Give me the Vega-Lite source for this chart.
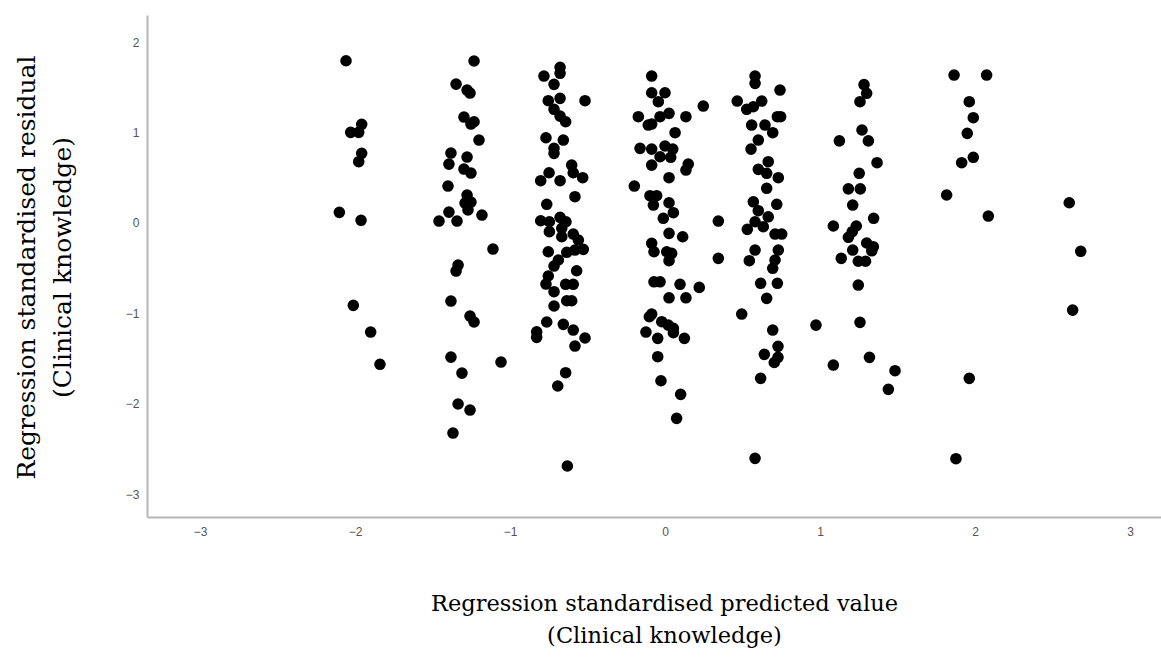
{
  "$schema": "https://vega.github.io/schema/vega-lite/v6.json",
  "width": 1014,
  "height": 502,
  "autosize": {"type": "none"},
  "padding": {"left": 147, "top": 15, "right": 0, "bottom": 147},
  "background": "white",
  "config": {"view": {"stroke": null}},
  "data": {"values": [
    {"x": -2.058, "y": 1.793}, {"x": -2.028, "y": 1.001}, {"x": -1.976, "y": 1.001}, {"x": -1.957, "y": 1.090}, {"x": -1.957, "y": 0.769}, {"x": -1.976, "y": 0.676}, {"x": -2.101, "y": 0.116}, {"x": -1.961, "y": 0.028}, {"x": -2.011, "y": -0.913}, {"x": -1.899, "y": -1.208}, {"x": -1.839, "y": -1.565},
    {"x": -1.232, "y": 1.790}, {"x": -1.348, "y": 1.535}, {"x": -1.277, "y": 1.469}, {"x": -1.258, "y": 1.436}, {"x": -1.297, "y": 1.170}, {"x": -1.252, "y": 1.093}, {"x": -1.232, "y": 1.118}, {"x": -1.200, "y": 0.916}, {"x": -1.381, "y": 0.772}, {"x": -1.394, "y": 0.650}, {"x": -1.277, "y": 0.728}, {"x": -1.297, "y": 0.595}, {"x": -1.252, "y": 0.551}, {"x": -1.400, "y": 0.407}, {"x": -1.277, "y": 0.308}, {"x": -1.290, "y": 0.219}, {"x": -1.252, "y": 0.230}, {"x": -1.271, "y": 0.142}, {"x": -1.394, "y": 0.119}, {"x": -1.458, "y": 0.020}, {"x": -1.342, "y": 0.020}, {"x": -1.181, "y": 0.086}, {"x": -1.110, "y": -0.290}, {"x": -1.335, "y": -0.467}, {"x": -1.348, "y": -0.533}, {"x": -1.381, "y": -0.865}, {"x": -1.258, "y": -1.031}, {"x": -1.232, "y": -1.097}, {"x": -1.381, "y": -1.485}, {"x": -1.310, "y": -1.662}, {"x": -1.058, "y": -1.540}, {"x": -1.335, "y": -2.004}, {"x": -1.258, "y": -2.071}, {"x": -1.368, "y": -2.325},
    {"x": -0.677, "y": 1.720}, {"x": -0.677, "y": 1.654}, {"x": -0.781, "y": 1.624}, {"x": -0.716, "y": 1.532}, {"x": -0.516, "y": 1.351}, {"x": -0.753, "y": 1.351}, {"x": -0.677, "y": 1.377}, {"x": -0.716, "y": 1.256}, {"x": -0.677, "y": 1.181}, {"x": -0.641, "y": 1.118}, {"x": -0.768, "y": 0.941}, {"x": -0.656, "y": 0.916}, {"x": -0.716, "y": 0.824}, {"x": -0.716, "y": 0.769}, {"x": -0.602, "y": 0.639}, {"x": -0.592, "y": 0.554}, {"x": -0.748, "y": 0.554}, {"x": -0.802, "y": 0.466}, {"x": -0.677, "y": 0.466}, {"x": -0.531, "y": 0.499}, {"x": -0.581, "y": 0.289}, {"x": -0.763, "y": 0.205}, {"x": -0.802, "y": 0.023}, {"x": -0.746, "y": 0.012}, {"x": -0.677, "y": 0.061}, {"x": -0.639, "y": 0.012}, {"x": -0.746, "y": -0.098}, {"x": -0.666, "y": -0.061}, {"x": -0.666, "y": -0.154}, {"x": -0.592, "y": -0.124}, {"x": -0.559, "y": -0.190}, {"x": -0.527, "y": -0.293}, {"x": -0.581, "y": -0.301}, {"x": -0.634, "y": -0.326}, {"x": -0.753, "y": -0.320}, {"x": -0.688, "y": -0.411}, {"x": -0.716, "y": -0.478}, {"x": -0.570, "y": -0.530}, {"x": -0.753, "y": -0.588}, {"x": -0.768, "y": -0.677}, {"x": -0.716, "y": -0.762}, {"x": -0.641, "y": -0.680}, {"x": -0.592, "y": -0.680}, {"x": -0.634, "y": -0.862}, {"x": -0.602, "y": -0.862}, {"x": -0.716, "y": -0.920}, {"x": -0.763, "y": -1.097}, {"x": -0.656, "y": -1.123}, {"x": -0.592, "y": -1.186}, {"x": -0.516, "y": -1.274}, {"x": -0.828, "y": -1.205}, {"x": -0.828, "y": -1.267}, {"x": -0.581, "y": -1.363}, {"x": -0.641, "y": -1.658}, {"x": -0.692, "y": -1.805}, {"x": -0.630, "y": -2.690},
    {"x": -0.086, "y": 1.624}, {"x": -0.086, "y": 1.439}, {"x": 0.000, "y": 1.439}, {"x": -0.043, "y": 1.340}, {"x": -0.172, "y": 1.174}, {"x": -0.108, "y": 1.082}, {"x": -0.086, "y": 1.093}, {"x": -0.032, "y": 1.174}, {"x": 0.026, "y": 1.211}, {"x": 0.135, "y": 1.174}, {"x": 0.247, "y": 1.292}, {"x": 0.065, "y": 0.997}, {"x": -0.161, "y": 0.824}, {"x": -0.086, "y": 0.816}, {"x": 0.000, "y": 0.850}, {"x": 0.050, "y": 0.816}, {"x": -0.032, "y": 0.731}, {"x": 0.037, "y": 0.725}, {"x": -0.086, "y": 0.639}, {"x": 0.150, "y": 0.650}, {"x": 0.135, "y": 0.584}, {"x": 0.026, "y": 0.499}, {"x": -0.198, "y": 0.407}, {"x": -0.097, "y": 0.300}, {"x": -0.054, "y": 0.300}, {"x": -0.075, "y": 0.197}, {"x": 0.026, "y": 0.222}, {"x": 0.054, "y": 0.112}, {"x": -0.011, "y": 0.050}, {"x": 0.344, "y": 0.020}, {"x": 0.026, "y": -0.116}, {"x": 0.114, "y": -0.154}, {"x": -0.086, "y": -0.227}, {"x": -0.071, "y": -0.320}, {"x": 0.011, "y": -0.320}, {"x": 0.043, "y": -0.337}, {"x": 0.026, "y": -0.419}, {"x": 0.344, "y": -0.393}, {"x": -0.071, "y": -0.652}, {"x": -0.032, "y": -0.652}, {"x": 0.097, "y": -0.680}, {"x": 0.221, "y": -0.714}, {"x": 0.026, "y": -0.829}, {"x": 0.135, "y": -0.829}, {"x": -0.086, "y": -1.009}, {"x": -0.101, "y": -1.039}, {"x": -0.021, "y": -1.094}, {"x": 0.021, "y": -1.131}, {"x": 0.054, "y": -1.167}, {"x": 0.054, "y": -1.216}, {"x": -0.123, "y": -1.208}, {"x": -0.047, "y": -1.278}, {"x": 0.125, "y": -1.278}, {"x": 0.495, "y": -1.009}, {"x": -0.047, "y": -1.481}, {"x": -0.026, "y": -1.747}, {"x": 0.101, "y": -1.897}, {"x": 0.075, "y": -2.163},
    {"x": 0.581, "y": 1.624}, {"x": 0.581, "y": 1.543}, {"x": 0.742, "y": 1.469}, {"x": 0.466, "y": 1.347}, {"x": 0.527, "y": 1.256}, {"x": 0.570, "y": 1.284}, {"x": 0.624, "y": 1.347}, {"x": 0.725, "y": 1.174}, {"x": 0.746, "y": 1.174}, {"x": 0.559, "y": 1.082}, {"x": 0.645, "y": 1.082}, {"x": 0.695, "y": 0.997}, {"x": 0.602, "y": 0.916}, {"x": 0.555, "y": 0.816}, {"x": 0.666, "y": 0.676}, {"x": 0.602, "y": 0.592}, {"x": 0.656, "y": 0.548}, {"x": 0.731, "y": 0.499}, {"x": 0.656, "y": 0.382}, {"x": 0.570, "y": 0.233}, {"x": 0.721, "y": 0.205}, {"x": 0.602, "y": 0.134}, {"x": 0.666, "y": 0.067}, {"x": 0.581, "y": 0.012}, {"x": 0.634, "y": -0.043}, {"x": 0.531, "y": -0.072}, {"x": 0.710, "y": -0.124}, {"x": 0.753, "y": -0.124}, {"x": 0.731, "y": -0.301}, {"x": 0.581, "y": -0.301}, {"x": 0.544, "y": -0.419}, {"x": 0.710, "y": -0.411}, {"x": 0.695, "y": -0.503}, {"x": 0.617, "y": -0.669}, {"x": 0.725, "y": -0.669}, {"x": 0.656, "y": -0.835}, {"x": 0.695, "y": -1.186}, {"x": 0.729, "y": -1.366}, {"x": 0.641, "y": -1.455}, {"x": 0.729, "y": -1.488}, {"x": 0.705, "y": -1.545}, {"x": 0.617, "y": -1.720}, {"x": 0.581, "y": -2.605},
    {"x": 1.284, "y": 1.530}, {"x": 1.301, "y": 1.433}, {"x": 1.258, "y": 1.340}, {"x": 1.271, "y": 1.027}, {"x": 1.312, "y": 0.907}, {"x": 1.125, "y": 0.907}, {"x": 1.368, "y": 0.665}, {"x": 1.253, "y": 0.548}, {"x": 1.183, "y": 0.376}, {"x": 1.260, "y": 0.376}, {"x": 1.211, "y": 0.197}, {"x": 1.346, "y": 0.050}, {"x": 1.086, "y": -0.035}, {"x": 1.234, "y": -0.035}, {"x": 1.208, "y": -0.098}, {"x": 1.183, "y": -0.160}, {"x": 1.301, "y": -0.223}, {"x": 1.344, "y": -0.264}, {"x": 1.334, "y": -0.309}, {"x": 1.211, "y": -0.301}, {"x": 1.137, "y": -0.393}, {"x": 1.247, "y": -0.425}, {"x": 1.294, "y": -0.425}, {"x": 1.247, "y": -0.688}, {"x": 0.974, "y": -1.131}, {"x": 1.258, "y": -1.101}, {"x": 1.086, "y": -1.573}, {"x": 1.319, "y": -1.488}, {"x": 1.484, "y": -1.636}, {"x": 1.441, "y": -1.842},
    {"x": 1.865, "y": 1.635}, {"x": 2.075, "y": 1.635}, {"x": 1.963, "y": 1.340}, {"x": 1.989, "y": 1.163}, {"x": 1.950, "y": 0.990}, {"x": 1.989, "y": 0.725}, {"x": 1.914, "y": 0.665}, {"x": 1.817, "y": 0.308}, {"x": 2.086, "y": 0.075}, {"x": 1.963, "y": -1.720}, {"x": 1.877, "y": -2.609},
    {"x": 2.608, "y": 0.222}, {"x": 2.682, "y": -0.315}, {"x": 2.630, "y": -0.965}
  ]},
  "mark": {"type": "point", "filled": true, "shape": "circle", "size": 135, "color": "black", "opacity": 1},
  "encoding": {
    "x": {
      "field": "x", "type": "quantitative",
      "scale": {"domain": [-3.342, 3.2], "nice": false, "zero": false},
      "axis": {
        "values": [-3, -2, -1, 0, 1, 2, 3],
        "title": ["Regression standardised predicted value", "(Clinical knowledge)"],
        "titleFont": "DejaVu Serif", "titleFontSize": 22.5, "titleFontWeight": "normal", "titleColor": "black",
        "titleLineHeight": 32, "titleX": 517, "titleY": 75, "titleBaseline": "top", "titleAlign": "center", "titleAnchor": null,
        "grid": false, "ticks": false, "domainColor": "#b5b5b5", "domainWidth": 2,
        "labelFont": "Liberation Sans", "labelFontSize": 12, "labelColor": "#555555", "labelPadding": 9
      }
    },
    "y": {
      "field": "y", "type": "quantitative",
      "scale": {"domain": [-3.254, 2.299], "nice": false, "zero": false},
      "axis": {
        "values": [-3, -2, -1, 0, 1, 2],
        "title": ["Regression standardised residual", "(Clinical knowledge)"],
        "titleFont": "DejaVu Serif", "titleFontSize": 25, "titleFontWeight": "normal", "titleColor": "black",
        "titleLineHeight": 36, "titleAngle": -90, "titleX": -133, "titleY": 252, "titleBaseline": "top", "titleAlign": "center",
        "grid": false, "ticks": false, "domainColor": "#b5b5b5", "domainWidth": 2,
        "labelFont": "Liberation Sans", "labelFontSize": 12, "labelColor": "#555555", "labelPadding": 8
      }
    }
  }
}
